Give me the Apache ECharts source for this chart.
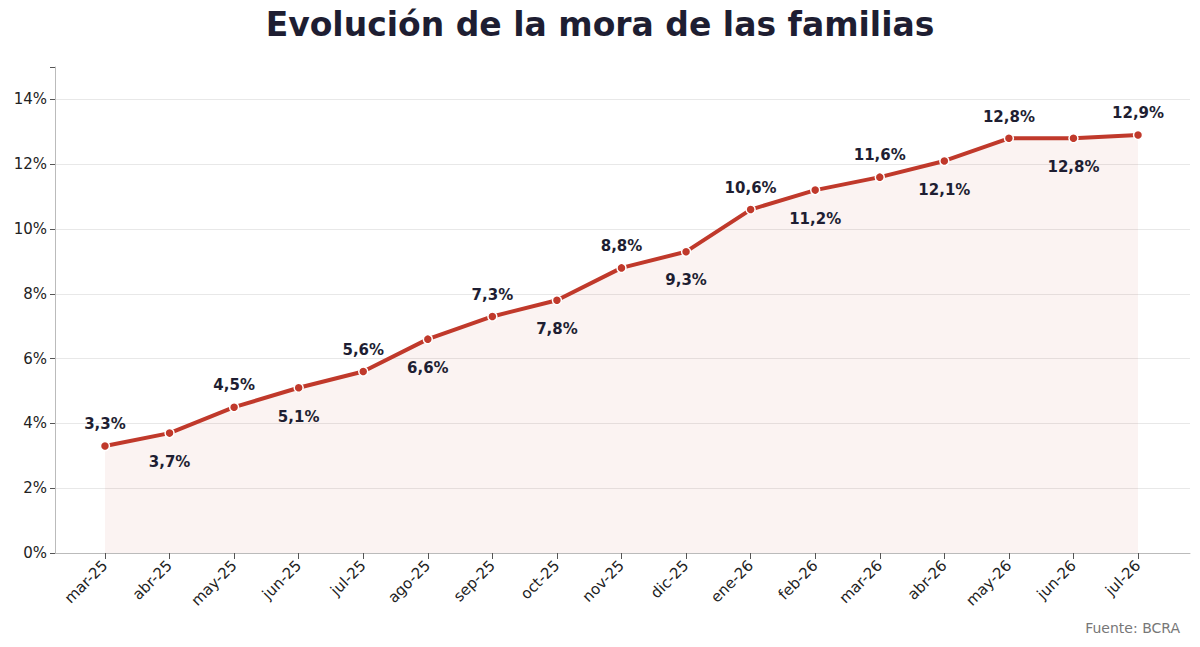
<!DOCTYPE html>
<html>
<head>
<meta charset="utf-8">
<script src="https://cdn.jsdelivr.net/npm/echarts@6/dist/echarts.min.js"></script>
<style>html,body{margin:0;padding:0;background:#fff}#c{width:1200px;height:647px}</style>
</head>
<body>
<div id="c"></div>
<script>
var months = ['mar-25', 'abr-25', 'may-25', 'jun-25', 'jul-25', 'ago-25', 'sep-25', 'oct-25', 'nov-25', 'dic-25', 'ene-26', 'feb-26', 'mar-26', 'abr-26', 'may-26', 'jun-26', 'jul-26'];
var mora = [3.3, 3.7, 4.5, 5.1, 5.6, 6.6, 7.3, 7.8, 8.8, 9.3, 10.6, 11.2, 11.6, 12.1, 12.8, 12.8, 12.9];

var red = '#c0392b';
var ink = '#1e1e32';

var chart = echarts.init(document.getElementById('c'), null, { renderer: 'svg' });
var idx = months.map(function(m, i) { return i; });
var points = mora.map(function(v, i) {
  return {
    value: [i, v],
    label: { position: i % 2 === 0 ? 'top' : 'bottom', distance: i % 2 === 0 ? 9 : 16 }
  };
});

chart.setOption({
  animation: false,
  title: {
    text: 'Evolución de la mora de las familias',
    left: 'center', top: 3,
    textStyle: { color: ink, fontSize: 33, fontWeight: 'bold', fontFamily: 'DejaVu Sans' }
  },
  graphic: [{
    type: 'text', right: 20, top: 621,
    style: { text: 'Fuente: BCRA', fill: '#777', fontSize: 14, fontFamily: 'DejaVu Sans' }
  }],
  grid: { left: 55, right: 10, top: 67, bottom: 94 },
  xAxis: {
    type: 'value', min: -0.774, max: 16.805,
    splitLine: { show: false },
    axisLine: { show: true, lineStyle: { color: '#bbb' } },
    axisTick: { show: true, customValues: idx, length: 6, lineStyle: { color: '#555' } },
    axisLabel: {
      customValues: idx, rotate: 45, align: 'right', verticalAlign: 'middle', margin: 10,
      color: '#222', fontSize: 15, fontFamily: 'DejaVu Sans',
      formatter: function(v) { return months[Math.round(v)]; }
    }
  },
  yAxis: {
    type: 'value', min: 0, max: 15, interval: 2,
    axisLine: { show: true, onZero: false, lineStyle: { color: '#bbb' } },
    axisTick: { show: true, length: 5, lineStyle: { color: '#555' } },
    splitLine: { show: true, showMaxLine: false, lineStyle: { color: '#e8e8e8' } },
    axisLabel: {
      color: '#222', fontSize: 15, fontFamily: 'DejaVu Sans',
      formatter: function(v) { return v > 14 ? '' : v + '%'; }
    }
  },
  series: [{
    type: 'line',
    data: points,
    symbol: 'circle', symbolSize: 9,
    lineStyle: { color: red, width: 4 },
    itemStyle: { color: red, borderColor: '#fff', borderWidth: 1.5 },
    areaStyle: { color: 'rgba(192,57,43,0.09)' },
    label: {
      show: true, color: ink, fontSize: 15, fontWeight: 'bold', fontFamily: 'DejaVu Sans',
      formatter: function(p) { return p.value[1].toFixed(1).replace('.', ',') + '%'; }
    }
  }]
});
</script>
</body>
</html>
